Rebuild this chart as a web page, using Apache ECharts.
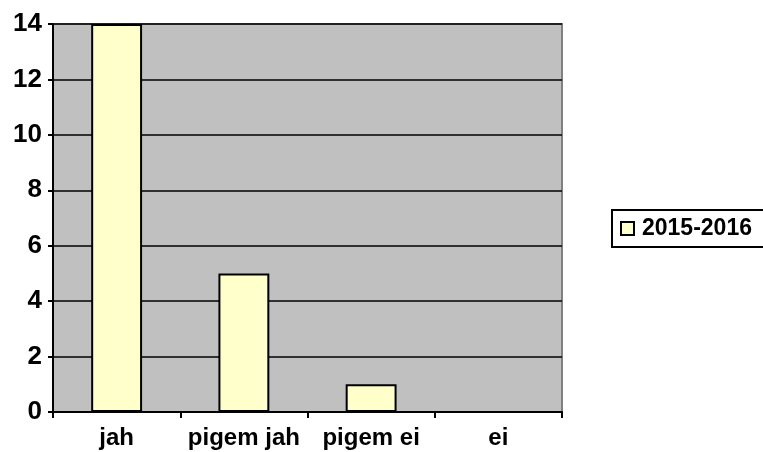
<!DOCTYPE html>
<html>
<head>
<meta charset="utf-8">
<script src="https://cdn.jsdelivr.net/npm/echarts@6/dist/echarts.min.js"></script>
<style>
  html, body { margin: 0; padding: 0; background: #fff; }
  #chart { width: 763px; height: 452px; }
</style>
</head>
<body>
<div id="chart"></div>
<script>
const categories = ['jah', 'pigem jah', 'pigem ei', 'ei']
const values2015 = [14, 5, 1, 0]
const seriesName = '2015-2016'

const chart = echarts.init(document.getElementById('chart'))

const option = {
  animation: false,
  textStyle: { fontFamily: 'Liberation Sans, Arial, sans-serif' },
  grid: {
    left: 53,
    right: 201,
    top: 24,
    bottom: 40,
    show: true,
    backgroundColor: '#c0c0c0',
    borderColor: '#808080',
    borderWidth: 2
  },
  legend: {
    data: [seriesName],
    left: 612,
    top: 210,
    orient: 'vertical',
    padding: [7, 60, 7, 8],
    borderColor: '#000',
    borderWidth: 2,
    backgroundColor: '#fff',
    itemWidth: 13,
    itemHeight: 13,
    itemGap: 0,
    icon: 'rect',
    textStyle: { fontSize: 23, fontWeight: 'bold', color: '#000', padding: [0, 0, 0, 3] }
  },
  xAxis: {
    type: 'category',
    data: categories,
    axisLine: { lineStyle: { color: '#000', width: 2 } },
    axisTick: { show: true, interval: 0, length: 6, lineStyle: { color: '#000', width: 2 } },
    axisLabel: { interval: 0, fontSize: 24, fontWeight: 'bold', color: '#000', margin: 14 }
  },
  yAxis: {
    type: 'value',
    min: 0,
    max: 14,
    interval: 2,
    axisLine: { show: true, lineStyle: { color: '#000', width: 2 } },
    axisTick: { show: true, length: 5, lineStyle: { color: '#000', width: 2 } },
    axisLabel: { fontSize: 26, fontWeight: 'bold', color: '#000', margin: 11 },
    splitLine: { lineStyle: { color: '#000', width: 1.5 } }
  },
  series: [{
    name: seriesName,
    type: 'bar',
    data: values2015,
    barWidth: '40%',
    itemStyle: {
      color: '#ffffcc',
      borderColor: '#000',
      borderWidth: 2
    }
  }]
}

chart.setOption(option)
</script>
</body>
</html>
